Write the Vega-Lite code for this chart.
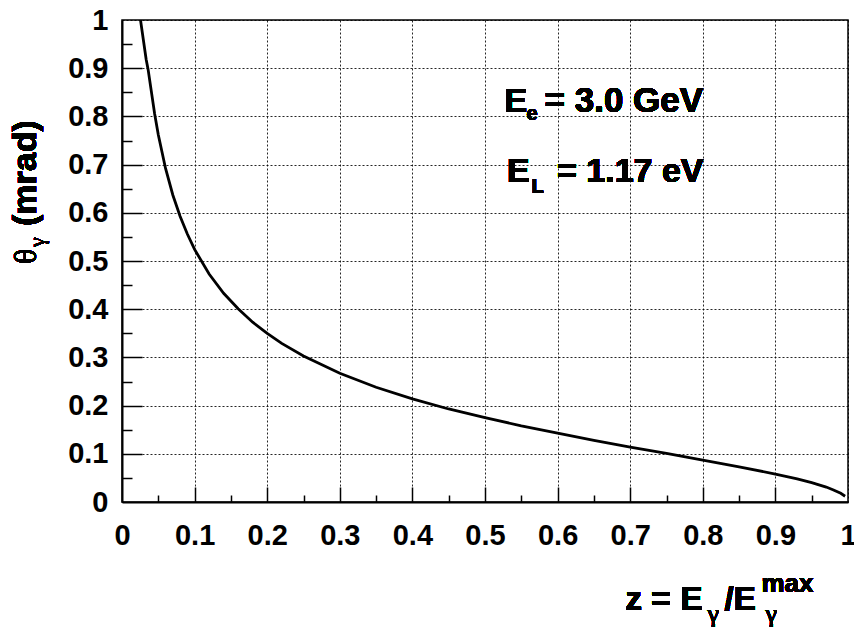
{
  "$schema": "https://vega.github.io/schema/vega-lite/v6.json",
  "autosize": {"type": "none"},
  "padding": {"left": 122, "top": 20, "right": 6, "bottom": 128},
  "width": 726,
  "height": 482,
  "background": "white",
  "config": {
    "view": {"stroke": "black", "strokeWidth": 1.5},
    "font": "Liberation Sans",
    "axis": {"domainColor": "black", "domainWidth": 2, "tickColor": "black", "tickWidth": 1.5, "labelFont": "Liberation Sans", "labelFontWeight": "bold", "labelColor": "black", "gridColor": "black", "gridDash": [2, 2], "gridWidth": 1, "gridOpacity": 0.85, "title": null}
  },
  "data": {"values": [
    {"z": 0.0255, "theta": 1.0},
    {"z": 0.0333, "theta": 0.918},
    {"z": 0.036, "theta": 0.897},
    {"z": 0.04, "theta": 0.856},
    {"z": 0.045, "theta": 0.805},
    {"z": 0.05, "theta": 0.762},
    {"z": 0.06, "theta": 0.692},
    {"z": 0.07, "theta": 0.637},
    {"z": 0.08, "theta": 0.593},
    {"z": 0.09, "theta": 0.556},
    {"z": 0.1, "theta": 0.524},
    {"z": 0.12, "theta": 0.473},
    {"z": 0.14, "theta": 0.433},
    {"z": 0.16, "theta": 0.401},
    {"z": 0.18, "theta": 0.373},
    {"z": 0.2, "theta": 0.35},
    {"z": 0.22, "theta": 0.329},
    {"z": 0.25, "theta": 0.303},
    {"z": 0.3, "theta": 0.267},
    {"z": 0.35, "theta": 0.238},
    {"z": 0.4, "theta": 0.214},
    {"z": 0.45, "theta": 0.193},
    {"z": 0.5, "theta": 0.175},
    {"z": 0.55, "theta": 0.158},
    {"z": 0.6, "theta": 0.143},
    {"z": 0.65, "theta": 0.128},
    {"z": 0.7, "theta": 0.114},
    {"z": 0.75, "theta": 0.101},
    {"z": 0.8, "theta": 0.087},
    {"z": 0.85, "theta": 0.073},
    {"z": 0.9, "theta": 0.058},
    {"z": 0.93, "theta": 0.048},
    {"z": 0.95, "theta": 0.04},
    {"z": 0.97, "theta": 0.031},
    {"z": 0.98, "theta": 0.025},
    {"z": 0.99, "theta": 0.018},
    {"z": 0.996, "theta": 0.012}
  ]},
  "resolve": {"axis": {"x": "independent", "y": "independent"}},
  "layer": [
    {
      "mark": {"type": "line", "color": "black", "strokeWidth": 2.8, "clip": true},
      "encoding": {
        "x": {"field": "z", "type": "quantitative", "scale": {"domain": [0, 1], "nice": false, "zero": false},
          "axis": {"orient": "bottom", "values": [0, 0.1, 0.2, 0.3, 0.4, 0.5, 0.6, 0.7, 0.8, 0.9, 1], "format": ".2~g", "ticks": false, "grid": true, "labelFontSize": 29, "labelPadding": 19, "labelFlush": false, "labelOverlap": false}},
        "y": {"field": "theta", "type": "quantitative", "scale": {"domain": [0, 1], "nice": false, "zero": false},
          "axis": {"orient": "left", "values": [0, 0.1, 0.2, 0.3, 0.4, 0.5, 0.6, 0.7, 0.8, 0.9, 1], "format": ".2~g", "ticks": false, "grid": true, "labelFontSize": 29, "labelPadding": 14, "labelFlush": false, "labelOverlap": false}}
      }
    },
    {
      "mark": {"type": "point", "opacity": 0},
      "encoding": {
        "x": {"field": "z", "type": "quantitative",
          "axis": {"orient": "bottom", "values": [0.1, 0.2, 0.3, 0.4, 0.5, 0.6, 0.7, 0.8, 0.9], "labels": false, "domain": false, "grid": false, "tickSize": -15}},
        "y": {"field": "theta", "type": "quantitative",
          "axis": {"orient": "left", "values": [0.1, 0.2, 0.3, 0.4, 0.5, 0.6, 0.7, 0.8, 0.9], "labels": false, "domain": false, "grid": false, "tickSize": -20}}
      }
    },
    {
      "mark": {"type": "point", "opacity": 0},
      "encoding": {
        "x": {"field": "z", "type": "quantitative",
          "axis": {"orient": "bottom", "values": [0.05, 0.15, 0.25, 0.35, 0.45, 0.55, 0.65, 0.75, 0.85, 0.95], "labels": false, "domain": false, "grid": false, "tickSize": -7}},
        "y": {"field": "theta", "type": "quantitative",
          "axis": {"orient": "left", "values": [0.05, 0.15, 0.25, 0.35, 0.45, 0.55, 0.65, 0.75, 0.85, 0.95], "labels": false, "domain": false, "grid": false, "tickSize": -10}}
      }
    },
    {"mark": {"type": "text", "text": "E", "font": "Liberation Sans", "fontWeight": "bold", "fontSize": 34, "align": "left", "baseline": "alphabetic"},
     "encoding": {"x": {"datum": 0.5269, "axis": null}, "y": {"datum": 0.8098, "axis": null}}},
    {"mark": {"type": "text", "text": "e", "font": "Liberation Sans", "fontWeight": "bold", "fontSize": 20, "align": "left", "baseline": "alphabetic", "dx": 22, "dy": 8},
     "encoding": {"x": {"datum": 0.5269, "axis": null}, "y": {"datum": 0.8098, "axis": null}}},
    {"mark": {"type": "text", "text": "= 3.0 GeV", "font": "Liberation Sans", "fontWeight": "bold", "fontSize": 35, "align": "left", "baseline": "alphabetic", "dx": 40},
     "encoding": {"x": {"datum": 0.5269, "axis": null}, "y": {"datum": 0.8098, "axis": null}}},
    {"mark": {"type": "text", "text": "E", "font": "Liberation Sans", "fontWeight": "bold", "fontSize": 34, "align": "left", "baseline": "alphabetic"},
     "encoding": {"x": {"datum": 0.5303, "axis": null}, "y": {"datum": 0.6645, "axis": null}}},
    {"mark": {"type": "text", "text": "L", "font": "Liberation Sans", "fontWeight": "bold", "fontSize": 20, "align": "left", "baseline": "alphabetic", "dx": 24.5, "dy": 11.6},
     "encoding": {"x": {"datum": 0.5303, "axis": null}, "y": {"datum": 0.6645, "axis": null}}},
    {"mark": {"type": "text", "text": "= 1.17 eV", "font": "Liberation Sans", "fontWeight": "bold", "fontSize": 34, "align": "left", "baseline": "alphabetic", "dx": 50},
     "encoding": {"x": {"datum": 0.5303, "axis": null}, "y": {"datum": 0.6645, "axis": null}}},
    {"mark": {"type": "text", "text": "z =", "font": "Liberation Sans", "fontWeight": "bold", "fontSize": 33, "align": "left", "baseline": "alphabetic"},
     "encoding": {"x": {"datum": 0.6935, "axis": null}, "y": {"datum": -0.2241, "axis": null}}},
    {"mark": {"type": "text", "text": "E", "font": "Liberation Sans", "fontWeight": "bold", "fontSize": 33, "align": "left", "baseline": "alphabetic", "dx": 55},
     "encoding": {"x": {"datum": 0.6935, "axis": null}, "y": {"datum": -0.2241, "axis": null}}},
    {"mark": {"type": "text", "text": "γ", "font": "Liberation Serif", "fontSize": 26, "align": "left", "baseline": "alphabetic", "dx": 82, "dy": 12},
     "encoding": {"x": {"datum": 0.6935, "axis": null}, "y": {"datum": -0.2241, "axis": null}}},
    {"mark": {"type": "text", "text": "/E", "font": "Liberation Sans", "fontWeight": "bold", "fontSize": 33, "align": "left", "baseline": "alphabetic", "dx": 99},
     "encoding": {"x": {"datum": 0.6935, "axis": null}, "y": {"datum": -0.2241, "axis": null}}},
    {"mark": {"type": "text", "text": "γ", "font": "Liberation Serif", "fontSize": 26, "align": "left", "baseline": "alphabetic", "dx": 140, "dy": 12},
     "encoding": {"x": {"datum": 0.6935, "axis": null}, "y": {"datum": -0.2241, "axis": null}}},
    {"mark": {"type": "text", "text": "max", "font": "Liberation Sans", "fontWeight": "bold", "fontSize": 26, "align": "left", "baseline": "alphabetic", "dx": 136, "dy": -18},
     "encoding": {"x": {"datum": 0.6935, "axis": null}, "y": {"datum": -0.2241, "axis": null}}},
    {"mark": {"type": "text", "text": "θ", "font": "Liberation Serif", "fontSize": 32, "align": "left", "baseline": "alphabetic", "angle": 270},
     "encoding": {"x": {"datum": -0.1178, "axis": null}, "y": {"datum": 0.4938, "axis": null}}},
    {"mark": {"type": "text", "text": "γ", "font": "Liberation Serif", "fontSize": 22, "align": "left", "baseline": "alphabetic", "angle": 270, "dx": 17, "dy": 8},
     "encoding": {"x": {"datum": -0.1178, "axis": null}, "y": {"datum": 0.4938, "axis": null}}},
    {"mark": {"type": "text", "text": "(mrad)", "font": "Liberation Sans", "fontWeight": "bold", "fontSize": 34, "align": "left", "baseline": "alphabetic", "angle": 270, "dx": 38},
     "encoding": {"x": {"datum": -0.1178, "axis": null}, "y": {"datum": 0.4938, "axis": null}}}
  ]
}
